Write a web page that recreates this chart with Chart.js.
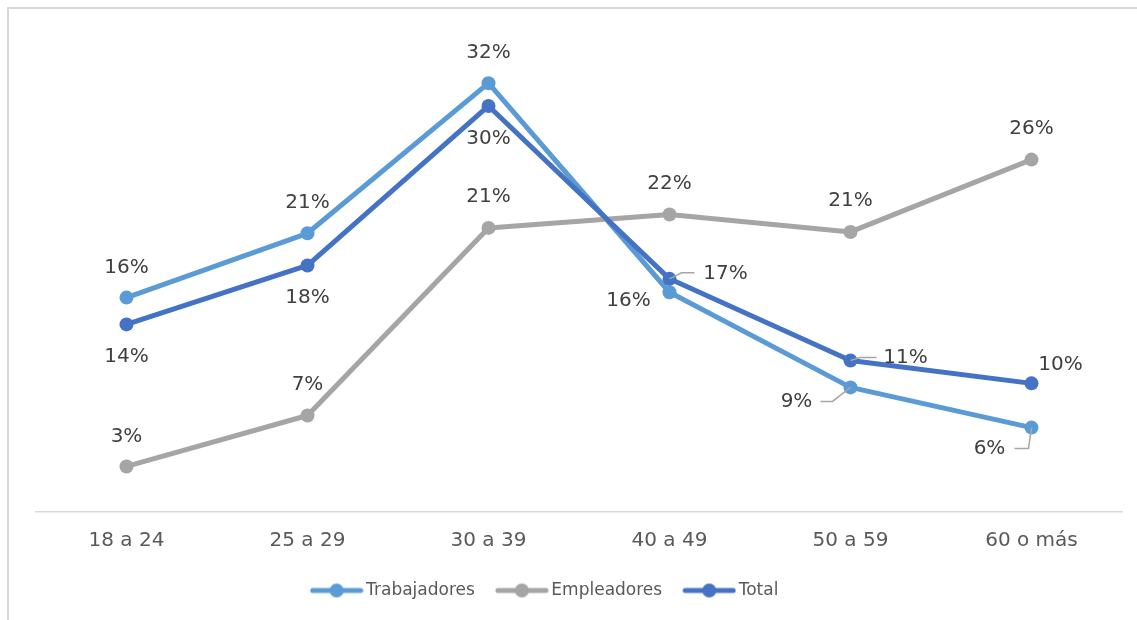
<!DOCTYPE html>
<html>
<head>
<meta charset="utf-8">
<script src="https://cdn.jsdelivr.net/npm/chart.js@4"></script>
<style>
  html, body { margin: 0; padding: 0; background: #fff; }
  #chart { display: block; }
</style>
</head>
<body>
<canvas id="chart" width="1137" height="620"></canvas>
<script>
// Datos (porcentajes por grupo de edad)
const categories = ['18 a 24', '25 a 29', '30 a 39', '40 a 49', '50 a 59', '60 o más'];
const trabajadores = [16.0, 20.8, 32.0, 16.4, 9.3, 6.3];
const empleadores = [3.4, 7.2, 21.2, 22.2, 20.9, 26.3];
const total = [14.0, 18.4, 30.3, 17.4, 11.3, 9.6];
const seriesNames = ['Trabajadores', 'Empleadores', 'Total'];

const colors = ['#5B9BD5', '#A5A5A5', '#4472C4'];
const fontFamily = '"DejaVu Sans", sans-serif';

// Ubicación de las etiquetas (desplazamiento respecto al punto, línea guía opcional)
const labelPlacement = [
    [{ dx: 0, dy: -30 }, { dx: 0, dy: -30 }, { dx: 0, dy: -30 },
     { dx: -41, dy: 9 },
     { dx: -54, dy: 14, leader: [[-18, 14], [-30, 14]] },
     { dx: -42, dy: 21, leader: [[-3, 21], [-17, 21]] }],
    [{ dx: 0, dy: -30 }, { dx: 0, dy: -31 }, { dx: 0, dy: -31 },
     { dx: 0, dy: -31 }, { dx: 0, dy: -31 }, { dx: 0, dy: -31 }],
    [{ dx: 0, dy: 32 }, { dx: 0, dy: 32 }, { dx: 0, dy: 33 },
     { dx: 56, dy: -5, leader: [[12, -6], [25, -6]] },
     { dx: 55, dy: -3, leader: [[10, -3], [26, -3]] },
     { dx: 29, dy: -19 }]
];

function legendIcon(color) {
    const c = document.createElement('canvas');
    c.width = 54;
    c.height = 16;
    const g = c.getContext('2d');
    g.strokeStyle = color;
    g.lineWidth = 5;
    g.lineCap = 'round';
    g.beginPath();
    g.moveTo(3, 8);
    g.lineTo(51, 8);
    g.stroke();
    g.fillStyle = color;
    g.beginPath();
    g.arc(27, 8, 7, 0, Math.PI * 2);
    g.fill();
    return c;
}

const frame = {
    id: 'frame',
    beforeDraw(chart) {
        const ctx = chart.ctx;
        ctx.save();
        ctx.fillStyle = '#fff';
        ctx.fillRect(0, 0, chart.width, chart.height);
        ctx.strokeStyle = '#d9d9d9';
        ctx.lineWidth = 2;
        ctx.beginPath();
        ctx.moveTo(8, chart.height);
        ctx.lineTo(8, 8);
        ctx.lineTo(chart.width, 8);
        ctx.stroke();
        ctx.restore();
    }
};

// la leyenda del original está algo desplazada a la izquierda
const legendShift = {
    id: 'legendShift',
    afterLayout(chart) {
        if (chart.legend) {
            chart.legend.left -= 32;
            chart.legend.right -= 32;
        }
    }
};

const valueLabels = {
    id: 'valueLabels',
    afterDatasetsDraw(chart) {
        const ctx = chart.ctx;
        ctx.save();
        ctx.font = '20px ' + fontFamily;
        ctx.textAlign = 'center';
        ctx.textBaseline = 'middle';
        chart.data.datasets.forEach((ds, i) => {
            const meta = chart.getDatasetMeta(i);
            meta.data.forEach((pt, j) => {
                const p = labelPlacement[i][j];
                if (p.leader) {
                    ctx.strokeStyle = '#a6a6a6';
                    ctx.lineWidth = 1.5;
                    ctx.beginPath();
                    ctx.moveTo(pt.x, pt.y);
                    p.leader.forEach(l => ctx.lineTo(pt.x + l[0], pt.y + l[1]));
                    ctx.stroke();
                }
                ctx.fillStyle = '#404040';
                ctx.fillText(Math.round(ds.data[j]) + '%', pt.x + p.dx, pt.y + p.dy);
            });
        });
        ctx.restore();
    }
};

function makeDataset(idx, values, order) {
    return {
        label: seriesNames[idx],
        data: values,
        borderColor: colors[idx],
        backgroundColor: colors[idx],
        pointBackgroundColor: colors[idx],
        pointBorderWidth: 0,
        pointRadius: 7,
        borderWidth: 5,
        borderCapStyle: 'round',
        borderJoinStyle: 'round',
        tension: 0,
        fill: false,
        order: order
    };
}

const ctx = document.getElementById('chart').getContext('2d');
const chart = new Chart(ctx, {
    type: 'line',
    data: {
        labels: categories,
        datasets: [
            makeDataset(0, trabajadores, 2),
            makeDataset(1, empleadores, 1),
            makeDataset(2, total, 0)
        ]
    },
    options: {
        responsive: false,
        animation: false,
        layout: {
            padding: { left: 36, right: 15, top: 43, bottom: 11 }
        },
        plugins: {
            legend: {
                display: true,
                position: 'bottom',
                labels: {
                    usePointStyle: true,
                    pointStyleWidth: 42,
                    padding: 26,
                    color: '#595959',
                    font: { family: fontFamily, size: 17 },
                    sort: (a, b) => a.datasetIndex - b.datasetIndex,
                    generateLabels: function (chart) {
                        const items = Chart.defaults.plugins.legend.labels.generateLabels(chart);
                        items.forEach(it => { it.pointStyle = legendIcon(colors[it.datasetIndex]); });
                        return items;
                    }
                }
            },
            tooltip: { enabled: false },
            title: { display: false }
        },
        scales: {
            x: {
                offset: true,
                grid: { display: false },
                border: { display: true, color: '#d9d9d9', width: 1.5 },
                ticks: {
                    color: '#595959',
                    padding: 9,
                    font: { family: fontFamily, size: 20 }
                },
                afterFit: function (scale) {
                    scale.height = 44;
                }
            },
            y: {
                display: false,
                min: 0,
                max: 35
            }
        }
    },
    plugins: [frame, legendShift, valueLabels]
});
</script>
</body>
</html>
